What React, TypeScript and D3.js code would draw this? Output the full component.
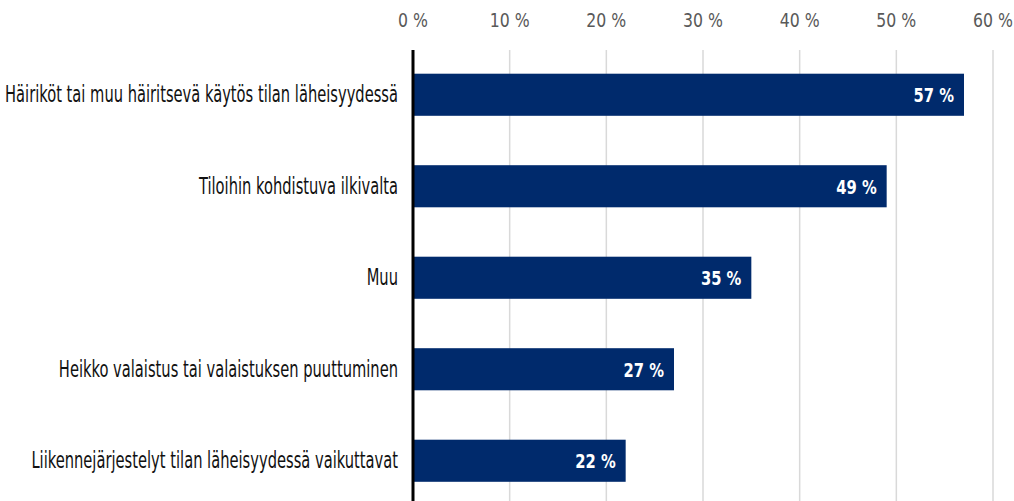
import React from "react";
import * as d3 from "d3";

const categories = [
  "Häiriköt tai muu häiritsevä käytös tilan läheisyydessä",
  "Tiloihin kohdistuva ilkivalta",
  "Muu",
  "Heikko valaistus tai valaistuksen puuttuminen",
  "Liikennejärjestelyt tilan läheisyydessä vaikuttavat",
];
const values = [57, 49, 35, 27, 22];
const ticks = [0, 10, 20, 30, 40, 50, 60];

const W = 1014;
const H = 501;
const FONT = "'DejaVu Sans Condensed', 'DejaVu Sans', sans-serif";

export default function App() {
  const x = d3.scaleLinear().domain([0, 60]).range([413, 993]);
  const y = d3.scaleBand<string>().domain(categories).range([49, 506.5]).paddingInner(0.54).paddingOuter(0.27);
  return (
    <svg width={W} height={H} style={{ position: "absolute", left: 0, top: 0, background: "#fff" }}>
      {ticks.map((t) => (
        <g key={t}>
          {t > 0 && <line x1={x(t)} x2={x(t)} y1={50} y2={H} stroke="#d9d9d9" strokeWidth={1.5} />}
          <text transform={`translate(${x(t)},27) scale(0.92,1)`} textAnchor="middle" fontFamily={FONT} fontSize={19} fill="#595959">
            {`${t} %`}
          </text>
        </g>
      ))}
      {categories.map((c, i) => {
        const cy = y(c)! + y.bandwidth() / 2;
        return (
          <g key={c}>
            <rect x={x(0)} y={y(c)!} width={x(values[i]) - x(0)} height={y.bandwidth()} fill="#002a6c" />
            <text transform={`translate(${x(values[i]) - 10},${cy + 7.5}) scale(0.82,1)`} textAnchor="end" fontFamily={FONT} fontWeight="bold" fontSize={20} fill="#fff">
              {`${values[i]} %`}
            </text>
            <text transform={`translate(398,${cy + 7.5}) scale(0.71,1)`} textAnchor="end" fontFamily={FONT} fontSize={23} fill="#111">
              {c}
            </text>
          </g>
        );
      })}
      <line x1={x(0)} x2={x(0)} y1={50} y2={H} stroke="#000" strokeWidth={3} />
    </svg>
  );
}
